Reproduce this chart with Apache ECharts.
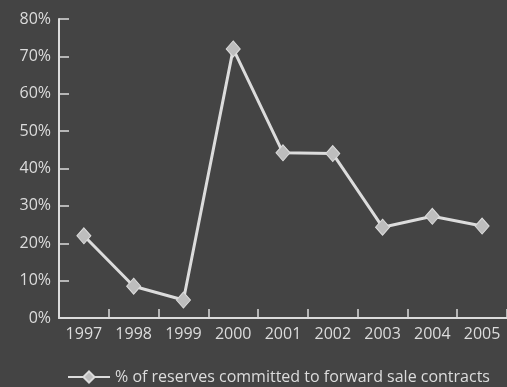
<!DOCTYPE html>
<html>
<head>
<meta charset="utf-8">
<script src="https://cdn.jsdelivr.net/npm/echarts@6/dist/echarts.min.js"></script>
<style>
  html, body { margin: 0; padding: 0; background: #444444; }
  #chart { width: 507px; height: 387px; }
</style>
</head>
<body>
<div id="chart"></div>
<script>
// Share of reserves committed to forward sale contracts, by year
const years = ['1997', '1998', '1999', '2000', '2001', '2002', '2003', '2004', '2005'];
const committedPct = [22, 8.5, 4.8, 72, 44.2, 44, 24.3, 27.2, 24.6];
const seriesName = '% of reserves committed to forward sale contracts';

const ink = '#dcdcdc';
const chart = echarts.init(document.getElementById('chart'));
chart.setOption({
  backgroundColor: '#444444',
  animation: false,
  textStyle: { fontFamily: 'Open Sans', color: ink },
  grid: { left: 59, right: -2, top: 19, bottom: 69 },
  legend: {
    data: [seriesName],
    bottom: -3,
    left: 62,
    itemWidth: 42,
    itemHeight: 14,
    itemGap: 3,
    textStyle: { color: ink, fontSize: 16, fontFamily: 'Open Sans' }
  },
  xAxis: {
    type: 'category',
    data: years,
    boundaryGap: true,
    axisLine: { lineStyle: { color: ink, width: 2 } },
    axisTick: { show: true, inside: true, length: 9, lineStyle: { color: ink, width: 1.5 } },
    axisLabel: { color: ink, fontSize: 16, margin: 8 },
    splitLine: { show: false }
  },
  yAxis: {
    type: 'value',
    min: 0,
    max: 80,
    interval: 10,
    axisLine: { show: true, lineStyle: { color: ink, width: 2 } },
    axisTick: { show: true, inside: true, length: 10, lineStyle: { color: ink, width: 1.5 } },
    axisLabel: { color: ink, fontSize: 16, formatter: '{value}%', margin: 8 },
    splitLine: { show: false }
  },
  series: [{
    name: seriesName,
    type: 'line',
    data: committedPct,
    symbol: 'diamond',
    symbolSize: [14, 16],
    lineStyle: { color: ink, width: 3 },
    itemStyle: { color: '#bdbdbd', borderColor: ink, borderWidth: 1 }
  }]
});
</script>
</body>
</html>
